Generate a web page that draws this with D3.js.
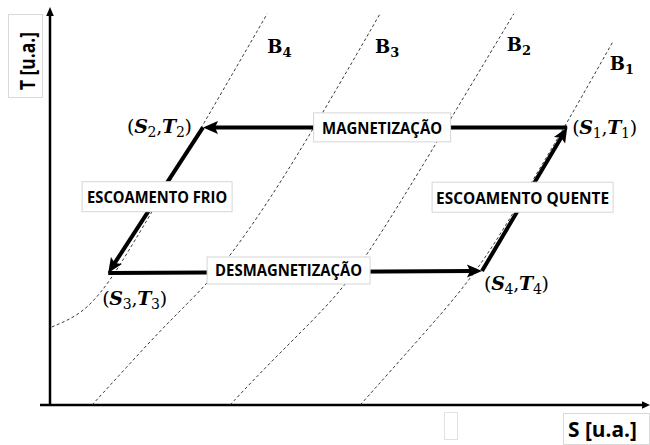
<!DOCTYPE html>
<html>
<head>
<meta charset="utf-8">
<script src="https://cdn.jsdelivr.net/npm/d3@7"></script>
<style>
  html, body { margin: 0; padding: 0; background: #fff; }
  svg { display: block; }
</style>
</head>
<body>
<svg id="chart" width="650" height="445"></svg>
<script>
// Magnetic refrigeration cycle on a T–S diagram with four isofield curves B1..B4.

// Isofield curves, [S, T] in arbitrary units
const curveNames = ["1", "2", "3", "4"];
const curveB1 = [[5.17, 0], [6.14, 1.63], [7.12, 3.30], [7.85, 5.13], [8.58, 6.95], [9.38, 9.08]];
const curveB2 = [[3.00, 0], [3.45, 0.72], [4.00, 1.55], [4.50, 2.30], [5.05, 3.20], [5.87, 5.13], [6.77, 7.38], [7.73, 9.78]];
const curveB3 = [[0.70, 0], [1.28, 0.95], [1.80, 1.80], [2.30, 2.55], [2.85, 3.40], [3.67, 5.13], [4.58, 7.38], [5.50, 9.78]];
const curveB4 = [[0.03, 1.95], [0.50, 2.25], [0.85, 2.80], [1.15, 3.45], [1.67, 4.75], [2.53, 6.95], [3.62, 9.78]];
const curves = [curveB1, curveB2, curveB3, curveB4];

// Cycle states (S_i, T_i)
const stateIds = ["1", "2", "3", "4"];
const stateS = [8.62, 2.55, 0.97, 7.20];
const stateT = [6.94, 6.94, 3.30, 3.35];

// Cycle steps: from state i to state i+1
const stepNames = ["MAGNETIZAÇÃO", "ESCOAMENTO FRIO", "DESMAGNETIZAÇÃO", "ESCOAMENTO QUENTE"];

const axisLabelX = "S [u.a.]";
const axisLabelY = "T [u.a.]";

// ---- layout ----
const svg = d3.select("#chart");
const x = d3.scaleLinear().domain([0, 10]).range([50, 650]);
const y = d3.scaleLinear().domain([0, 10]).range([405, 5]);

const serif = "'DejaVu Serif', serif";
const sans = "'Open Sans', Lato, sans-serif";

function arrowHead(g, tip, ang, len, half, notch) {
  const c = Math.cos(ang), s = Math.sin(ang);
  const p = (a, b) => [tip[0] + a * c - b * s, tip[1] + a * s + b * c];
  const pts = [p(0, 0), p(-len, -half), p(-len + notch, 0), p(-len, half)];
  g.append("path")
    .attr("d", "M" + pts.map(q => q.join(",")).join("L") + "Z")
    .attr("fill", "#000");
}

// ---- axes ----
const axes = svg.append("g");
const x0 = x(0), y0 = y(0);
axes.append("line").attr("x1", 40).attr("y1", y0).attr("x2", x(10) - 6).attr("y2", y0)
  .attr("stroke", "#000").attr("stroke-width", 2.5);
arrowHead(axes, [x(10), y0], 0, 8, 3.8, 0);
axes.append("line").attr("x1", x0).attr("y1", y0 + 1).attr("x2", x0).attr("y2", y(9.95) + 7)
  .attr("stroke", "#000").attr("stroke-width", 2.5);
arrowHead(axes, [x0, y(9.95)], -Math.PI / 2, 9, 3.8, 0);

// ---- isofield curves ----
const curveLine = d3.line().x(d => x(d[0])).y(d => y(d[1])).curve(d3.curveBasis);
svg.append("g").selectAll("path").data(curves).join("path")
  .attr("d", curveLine)
  .attr("fill", "none")
  .attr("stroke", "#222")
  .attr("stroke-width", 0.9)
  .attr("stroke-dasharray", "3,2.5");

// curve labels B_i near the top end of each curve
const bLabelOffset = [[-3, 28], [-7, 37], [-5, 39], [0, 39]];
const bl = svg.append("g").attr("font-family", serif).attr("font-weight", "bold").attr("fill", "#000");
curves.forEach((c, i) => {
  const top = c[c.length - 1];
  const t = bl.append("text")
    .attr("x", x(top[0]) + bLabelOffset[i][0])
    .attr("y", y(top[1]) + bLabelOffset[i][1])
    .attr("font-size", 18);
  t.append("tspan").text("B");
  t.append("tspan").attr("dy", 4).attr("font-size", 13).text(curveNames[i]);
});

// ---- cycle arrows ----
const cyc = svg.append("g");
const pts = stateS.map((s, i) => [x(s), y(stateT[i])]);
for (let i = 0; i < 4; i++) {
  const a = pts[i], b = pts[(i + 1) % 4];
  const ang = Math.atan2(b[1] - a[1], b[0] - a[0]);
  const end = [b[0] - 10 * Math.cos(ang), b[1] - 10 * Math.sin(ang)];
  cyc.append("line")
    .attr("x1", a[0]).attr("y1", a[1]).attr("x2", end[0]).attr("y2", end[1])
    .attr("stroke", "#000").attr("stroke-width", 4).attr("stroke-linecap", "butt");
  arrowHead(cyc, b, ang, 15, 6.5, 3);
}

// ---- step boxes ----
const stepBox = [
  { w: 137, h: 29, dx: -3, dy: 0, base: 6.5, tl: 120 },
  { w: 150, h: 30, dx: 1.5, dy: -3.5, base: 6, tl: 140 },
  { w: 163, h: 27, dx: -6.5, dy: -1.5, base: 5.5, tl: 147 },
  { w: 181, h: 30, dx: -2, dy: -2, base: 6.5, tl: 173 }
];
const boxes = svg.append("g");
stepNames.forEach((name, i) => {
  const a = pts[i], b = pts[(i + 1) % 4];
  const cfg = stepBox[i];
  const cx = (a[0] + b[0]) / 2 + cfg.dx, cy = (a[1] + b[1]) / 2 + cfg.dy;
  boxes.append("rect")
    .attr("x", cx - cfg.w / 2).attr("y", cy - cfg.h / 2)
    .attr("width", cfg.w).attr("height", cfg.h)
    .attr("fill", "#fff").attr("stroke", "#d6d6d6").attr("stroke-width", 1);
  boxes.append("text")
    .attr("x", cx).attr("y", cy + cfg.base)
    .attr("text-anchor", "middle")
    .attr("font-family", sans).attr("font-weight", "bold").attr("font-size", 16.5)
    .attr("textLength", cfg.tl).attr("lengthAdjust", "spacingAndGlyphs")
    .attr("fill", "#000")
    .text(name);
});

// ---- state labels (S_i, T_i) ----
const stateLabelPos = [
  { dx: 5, dy: 7, anchor: "start" },
  { dx: -11, dy: 6, anchor: "end" },
  { dx: -6, dy: 32, anchor: "start" },
  { dx: 2, dy: 19, anchor: "start" }
];
const sl = svg.append("g").attr("font-family", serif).attr("fill", "#000");
stateIds.forEach((id, i) => {
  const p = pts[i], cfg = stateLabelPos[i];
  const t = sl.append("text")
    .attr("x", p[0] + cfg.dx).attr("y", p[1] + cfg.dy)
    .attr("text-anchor", cfg.anchor)
    .attr("font-size", 19)
    .attr("textLength", 65).attr("lengthAdjust", "spacing");
  t.append("tspan").text("(");
  t.append("tspan").attr("font-style", "italic").attr("font-weight", "bold").text("S");
  t.append("tspan").attr("dy", 4).attr("font-size", 14).text(id);
  t.append("tspan").attr("dy", -4).text(",");
  t.append("tspan").attr("font-style", "italic").attr("font-weight", "bold").text("T");
  t.append("tspan").attr("dy", 4).attr("font-size", 14).text(id);
  t.append("tspan").attr("dy", -4).text(")");
});

// ---- axis titles ----
const at = svg.append("g");
at.append("rect").attr("x", 563.5).attr("y", 413.5).attr("width", 86).attr("height", 31)
  .attr("fill", "#fff").attr("stroke", "#d9d9d9");
at.append("text").attr("x", 568).attr("y", 437)
  .attr("font-family", sans).attr("font-weight", "bold").attr("font-size", 22)
  .attr("textLength", 69).attr("lengthAdjust", "spacingAndGlyphs")
  .text(axisLabelX);
at.append("rect").attr("x", 444.5).attr("y", 412.5).attr("width", 13).attr("height", 27)
  .attr("fill", "#fff").attr("stroke", "#e2e2e2");
at.append("rect").attr("x", 8.5).attr("y", 14.5).attr("width", 34).attr("height", 83)
  .attr("fill", "#fff").attr("stroke", "#d9d9d9");
at.append("text")
  .attr("transform", "translate(35,90) rotate(-90)")
  .attr("font-family", sans).attr("font-weight", "bold").attr("font-size", 22)
  .attr("textLength", 58).attr("lengthAdjust", "spacingAndGlyphs")
  .text(axisLabelY);
</script>
</body>
</html>
